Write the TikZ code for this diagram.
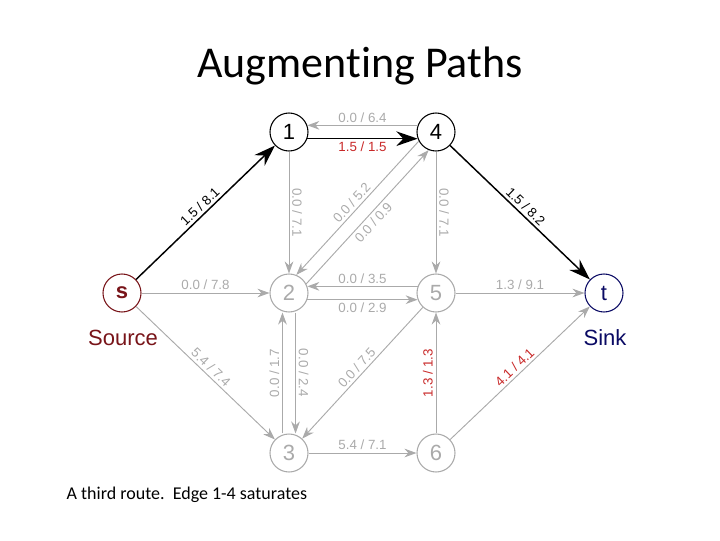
\documentclass[tikz,border=0pt]{standalone}
\usepackage{fontspec}
\setmainfont{Liberation Sans}
\newfontfamily\calibri[Ligatures=NoCommon]{Carlito}
\usetikzlibrary{arrows.meta}

\definecolor{edgegray}{RGB}{170,170,170}
\definecolor{satred}{RGB}{200,40,40}
\definecolor{srcred}{RGB}{120,20,25}
\definecolor{sinkblue}{RGB}{10,10,100}

\tikzset{
  vert/.style={circle,draw,line width=0.8pt,minimum size=28.5pt,inner sep=0pt,font=\fontsize{16.5}{18}\selectfont},
  idle/.style={vert,draw=edgegray,text=edgegray},
  used/.style={vert,draw=black},
  flow/.style={draw=edgegray,line width=0.7pt,-{Stealth[length=9pt,width=6.5pt]}},
  aug/.style={draw=black,line width=1.1pt,-{Stealth[length=16pt,width=11pt]}},
  lbl/.style={font=\fontsize{10}{12}\selectfont,text=edgegray,sloped,inner sep=2pt}
}

\begin{document}
\begin{tikzpicture}[x=0.75pt,y=-0.75pt]
\useasboundingbox (0,0) rectangle (720,540);

\node[font=\calibri\fontsize{33}{36}\selectfont,anchor=base] (title) at (360,77) {Augmenting Paths};

\node[used,draw=srcred,text=srcred,font=\fontsize{16.5}{18}\selectfont\bfseries] (s) at (122,293) {s};
\node[used] (n1) at (289,132) {1};
\node[used] (n4) at (436,132) {4};
\node[idle] (n2) at (289,293) {2};
\node[idle] (n5) at (436,293) {5};
\node[used,draw=sinkblue,text=sinkblue] (t) at (604,293) {t};
\node[idle] (n3) at (289,453) {3};
\node[idle] (n6) at (436,453) {6};

\node[font=\fontsize{16.5}{18}\selectfont,text=srcred] (src) at (123,338) {Source};
\node[font=\fontsize{16.5}{18}\selectfont,text=sinkblue] (snk) at (605,338) {Sink};

% augmenting path
\draw[aug] (s) -- node[lbl,text=black,above] {1.5 / 8.1} (n1);
\draw[aug] (n1.-20) -- node[lbl,text=satred,below] {1.5 / 1.5} (n4.200);
\draw[aug] (n4) -- node[lbl,text=black,above] {1.5 / 8.2} (t);

% other edges
\draw[flow] (n4.160) -- node[lbl,above] {0.0 / 6.4} (n1.20);
\draw[flow] (n1) -- node[lbl,above] {0.0 / 7.1} (n2);
\draw[flow] (n4) -- node[lbl,above] {0.0 / 7.1} (n5);
\draw[flow] (n4.208) -- node[lbl,above] {0.0 / 5.2} (n2.68);
\draw[flow] (n2.28) -- node[lbl,below] {0.0 / 0.9} (n4.248);
\draw[flow] (s) -- node[lbl,above] {0.0 / 7.8} (n2);
\draw[flow] (s) -- node[lbl,above] {5.4 / 7.4} (n3);
\draw[flow] (n5.160) -- node[lbl,above] {0.0 / 3.5} (n2.20);
\draw[flow] (n2.-20) -- node[lbl,below] {0.0 / 2.9} (n5.200);
\draw[flow] (n5) -- node[lbl,above] {1.3 / 9.1} (t);
\draw[flow] ([xshift=-4.9pt]n3.north) -- node[lbl,above] {0.0 / 1.7} ([xshift=-4.9pt]n2.south);
\draw[flow] ([xshift=4.9pt]n2.south) -- node[lbl,above] {0.0 / 2.4} ([xshift=4.9pt]n3.north);
\draw[flow] (n5) -- node[lbl,above] {0.0 / 7.5} (n3);
\draw[flow] (n6) -- node[lbl,text=satred,above] {1.3 / 1.3} (n5);
\draw[flow] (n3) -- node[lbl,above] {5.4 / 7.1} (n6);
\draw[flow] (n6) -- node[lbl,text=satred,above] {4.1 / 4.1} (t);

\node[font=\calibri\fontsize{13.5}{16}\selectfont,anchor=base west] (caption) at (62,499) {A third route.\ \ Edge 1-4 saturates};
\end{tikzpicture}
\end{document}
